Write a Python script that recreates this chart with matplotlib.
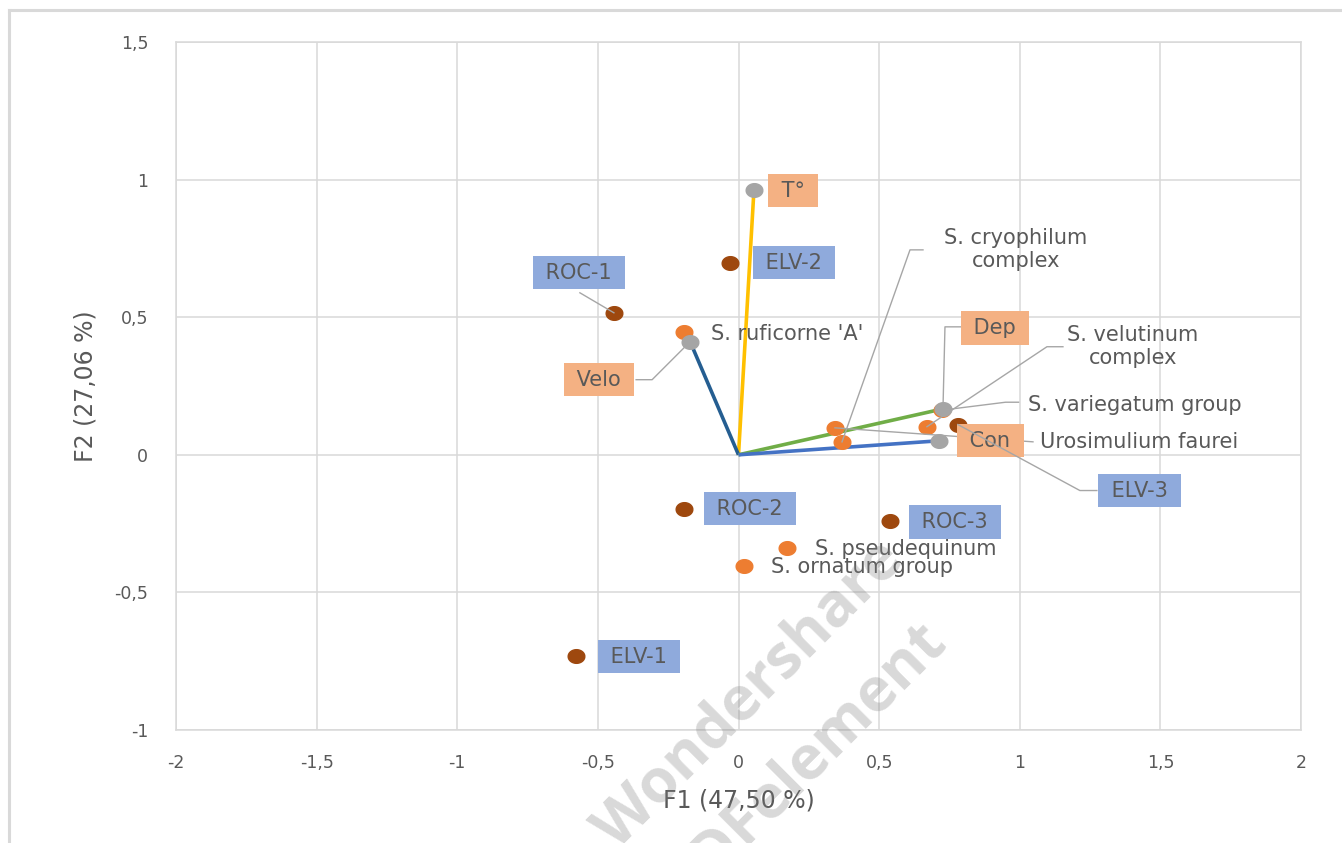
import matplotlib
matplotlib.use('Agg')
import matplotlib.pyplot as plt
from matplotlib.path import Path
from matplotlib.lines import Line2D
from matplotlib.ticker import FuncFormatter, MultipleLocator
import numpy as np

# observations (sites)
obs_names = ['ROC-1', 'ELV-2', 'ROC-2', 'ROC-3', 'ELV-1', 'ELV-3']
obs_f1 = [-0.443, -0.030, -0.194, 0.539, -0.578, 0.780]
obs_f2 = [0.516, 0.698, -0.196, -0.240, -0.730, 0.110]

# environmental variables (vectors from origin)
var_names = ['T°', 'Velo', 'Dep', 'Con']
var_f1 = [0.055, -0.172, 0.727, 0.713]
var_f2 = [0.963, 0.411, 0.167, 0.051]
var_colors = ['#FFC000', '#255E91', '#70AD47', '#4472C4']

# species
sp_names = ["S. ruficorne 'A'", 'Urosimulium faurei', 'S. cryophilum\ncomplex',
            'S. velutinum\ncomplex', 'S. variegatum group', 'S. pseudequinum',
            'S. ornatum group']
sp_f1 = [-0.194, 0.343, 0.368, 0.670, 0.722, 0.172, 0.020]
sp_f2 = [0.447, 0.098, 0.047, 0.102, 0.162, -0.338, -0.403]

TXT = '#595959'
GRID = '#D9D9D9'
FONT = 'DejaVu Sans'

# label placement: offset of the text anchor from the point (pixels, y down),
# horizontal alignment, and optional leader path (pixel offsets)
obs_lab = {
    'ROC-1': ((-35, -40), 'center', [(0, 0), (-34, -20)]),
    'ELV-2': ((64, 0), 'center', None),
    'ROC-2': ((66, 0), 'center', None),
    'ROC-3': ((65, 1), 'center', None),
    'ELV-1': ((63, 1), 'center', None),
    'ELV-3': ((182, 66), 'center', [(0, 0), (122, 66), (139, 66)]),
}
var_lab = {
    'T°': ((39, 1), 'center', None),
    'Velo': ((-91, 38), 'center', [(0, 0), (-38, 38), (-54, 38)]),
    'Dep': ((52, -81), 'center', [(0, 0), (2, -82), (19, -82)]),
    'Con': ((51, 0), 'center', None),
}
sp_lab = {
    "S. ruficorne 'A'": ((27, 2), 'left', None),
    'Urosimulium faurei': ((205, 14), 'left', [(0, 0), (198, 14)]),
    'S. cryophilum\ncomplex': ((174, -192), 'center', [(0, 0), (68, -192), (81, -192)]),
    'S. velutinum\ncomplex': ((206, -80), 'center', [(0, 0), (120, -80), (136, -80)]),
    'S. variegatum group': ((86, -5), 'left', [(0, 0), (64, -8), (77, -8)]),
    'S. pseudequinum': ((28, 1), 'left', None),
    'S. ornatum group': ((27, 1), 'left', None),
}

fig = plt.figure(figsize=(13.42, 8.43), dpi=100)
ax = fig.add_axes([176 / 1342, 1 - 730 / 843, 1125 / 1342, 688 / 843])
ax.set_xlim(-2, 2)
ax.set_ylim(-1, 1.5)

# outer chart border (top and left visible)
fig.add_artist(Line2D([9 / 1342, 9 / 1342], [0, 1 - 10 / 843], transform=fig.transFigure,
                      color=GRID, lw=2.2))
fig.add_artist(Line2D([9 / 1342, 1], [1 - 10 / 843, 1 - 10 / 843], transform=fig.transFigure,
                      color=GRID, lw=2.2))

ax.xaxis.set_major_locator(MultipleLocator(0.5))
ax.yaxis.set_major_locator(MultipleLocator(0.5))
comma = FuncFormatter(lambda v, p: ('%g' % v).replace('.', ','))
ax.xaxis.set_major_formatter(comma)
ax.yaxis.set_major_formatter(comma)
ax.grid(True, color=GRID, lw=1.1, zorder=0)
ax.set_axisbelow(True)
for s in ax.spines.values():
    s.set_color(GRID)
    s.set_linewidth(1.1)
ax.tick_params(length=0, labelsize=12.5, labelcolor=TXT)
ax.tick_params(axis='x', pad=17)
ax.tick_params(axis='y', pad=20)
for t in ax.get_xticklabels() + ax.get_yticklabels():
    t.set_fontfamily(FONT)
ax.set_xlabel('F1 (47,50 %)', fontsize=17, color=TXT, family=FONT, labelpad=12)
ax.set_ylabel('F2 (27,06 %)', fontsize=17, color=TXT, family=FONT, labelpad=12)

# slightly flattened dot marker
th = np.linspace(0, 2 * np.pi, 60)
dot = Path(np.column_stack([np.cos(th), 0.82 * np.sin(th)]))

for x, y, c in zip(var_f1, var_f2, var_colors):
    ax.plot([0, x], [0, y], color=c, lw=2.6, zorder=3, solid_capstyle='butt')
ax.plot(obs_f1, obs_f2, ls='none', marker=dot, ms=12, color='#9E480E', zorder=4)
ax.plot(sp_f1, sp_f2, ls='none', marker=dot, ms=12, color='#ED7D31', zorder=5)
ax.plot(var_f1, var_f2, ls='none', marker=dot, ms=12, color='#A5A5A5', zorder=6)


def shifted(x, y, dx, dy):
    X, Y = ax.transData.transform((x, y))
    return ax.transData.inverted().transform((X + dx, Y - dy))


def draw_labels(names, xs, ys, layout, box, size, zlead=7):
    for name, x, y in zip(names, xs, ys):
        (dx, dy), ha, lead = layout[name]
        if lead:
            pts = np.array([shifted(x, y, a, b) for a, b in lead])
            z = 10 if name == 'ELV-3' else zlead
            ax.plot(pts[:, 0], pts[:, 1], color='#A6A6A6', lw=1, zorder=z)
        kw = {}
        txt = name
        if box:
            kw['bbox'] = dict(boxstyle='square,pad=0.32', fc=box, ec='none')
            txt = ' ' + name + ' '
        ax.annotate(txt, (x, y), xytext=(dx, -dy), textcoords='offset pixels',
                    ha=ha, va='center', multialignment='center', fontsize=size,
                    color=TXT, family=FONT, zorder=8, linespacing=1.2, **kw)


draw_labels(obs_names, obs_f1, obs_f2, obs_lab, '#8FAADC', 15)
draw_labels(var_names, var_f1, var_f2, var_lab, '#F4B183', 15)
draw_labels(sp_names, sp_f1, sp_f2, sp_lab, None, 15)

# PDF tool watermark
for s, cx, cy in [('Wondershare', 750, 695), ('PDFelement', 805, 762)]:
    fig.text(cx / 1342, 1 - cy / 843, s, fontsize=44, fontweight='bold',
             family='Open Sans', color='#808080', alpha=0.3, rotation=45,
             rotation_mode='anchor', ha='center', va='center', zorder=20)

fig.savefig('out.png', dpi=100)
